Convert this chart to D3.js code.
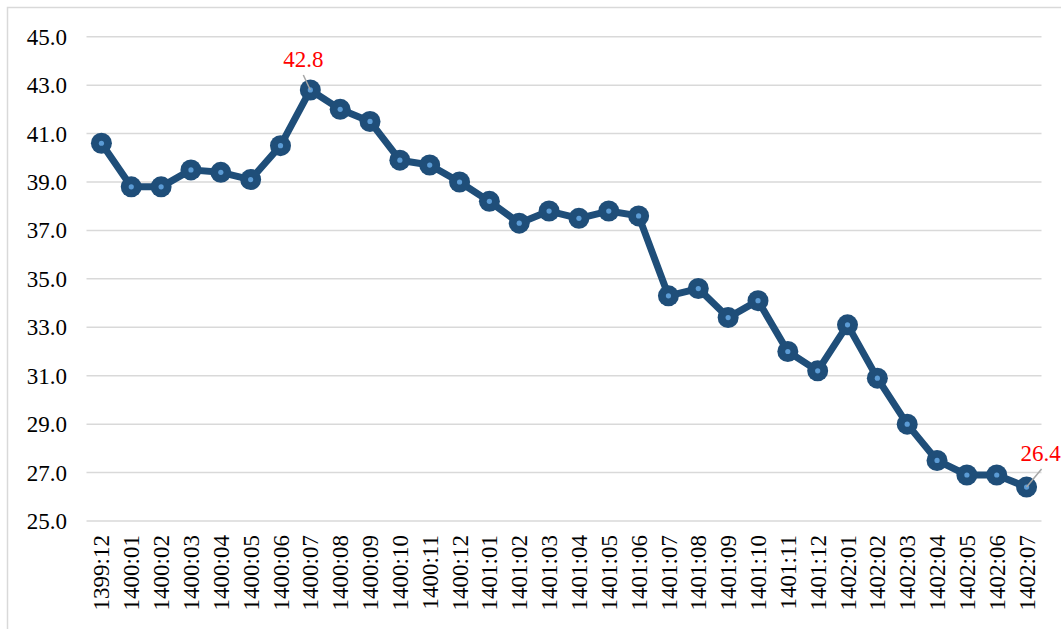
<!DOCTYPE html>
<html>
<head>
<meta charset="utf-8">
<script src="https://cdn.jsdelivr.net/npm/d3@7"></script>
<style>
  body { margin: 0; background: #fff; }
  svg { display: block; }
</style>
</head>
<body>
<div id="chart"></div>
<script>
// months (solar hijri year:month)
const months = ["1399:12",
    "1400:01", "1400:02", "1400:03", "1400:04", "1400:05", "1400:06",
    "1400:07", "1400:08", "1400:09", "1400:10", "1400:11", "1400:12",
    "1401:01", "1401:02", "1401:03", "1401:04", "1401:05", "1401:06",
    "1401:07", "1401:08", "1401:09", "1401:10", "1401:11", "1401:12",
    "1402:01", "1402:02", "1402:03", "1402:04", "1402:05", "1402:06", "1402:07"];

// values
const values = [40.6,
    38.8, 38.8, 39.5, 39.4, 39.1, 40.5,
    42.8, 42.0, 41.5, 39.9, 39.7, 39.0,
    38.2, 37.3, 37.8, 37.5, 37.8, 37.6,
    34.3, 34.6, 33.4, 34.1, 32.0, 31.2,
    33.1, 30.9, 29.0, 27.5, 26.9, 26.9, 26.4];

const yTicks = [25, 27, 29, 31, 33, 35, 37, 39, 41, 43, 45];

// only these points carry a label
const labelled = ["1400:07", "1402:07"];

const width = 1061, height = 629;
const margin = {top: 36.7, right: 19.5, bottom: 108, left: 86.5};

// serif face like the original; DejaVu Serif if Liberation is missing
const font = "'Liberation Serif', 'Times New Roman', 'DejaVu Serif', serif";

const svg = d3.select("#chart")
    .append("svg")
    .attr("width", width)
    .attr("height", height)
    .style("font-family", font)
    .style("font-size", "23px");

// outer chart frame (only top and left are visible in the picture)
svg.append("path")
    .attr("d", "M7.5," + height + "V7.5H" + width)
    .attr("fill", "none")
    .attr("stroke", "#d9d9d9")
    .attr("stroke-width", 1.5);

const x = d3.scaleBand()
    .domain(months)
    .range([margin.left, width - margin.right]);

const y = d3.scaleLinear()
    .domain([25, 45])
    .range([height - margin.bottom, margin.top]);

// gridlines
svg.append("g")
    .selectAll("line")
    .data(yTicks)
    .enter().append("line")
    .attr("x1", margin.left)
    .attr("x2", width - margin.right)
    .attr("y1", d => y(d))
    .attr("y2", d => y(d))
    .attr("stroke", "#d9d9d9")
    .attr("stroke-width", 1.5);

// y labels
svg.append("g")
    .selectAll("text")
    .data(yTicks)
    .enter().append("text")
    .attr("x", 67)
    .attr("y", d => y(d))
    .attr("dy", "0.35em")
    .attr("text-anchor", "end")
    .attr("fill", "#000")
    .text(d => d.toFixed(1));

// x labels, rotated
svg.append("g")
    .selectAll("text")
    .data(months)
    .enter().append("text")
    .attr("transform", d => "translate(" + (x(d) + x.bandwidth() / 2) + "," + 535 + ") rotate(-90)")
    .attr("dy", "0.35em")
    .attr("text-anchor", "end")
    .attr("fill", "#000")
    .text(d => d);

const cx = (d, i) => x(months[i]) + x.bandwidth() / 2;

// the line
const line = d3.line()
    .x((d, i) => cx(d, i))
    .y(d => y(d));

svg.append("path")
    .datum(values)
    .attr("d", line)
    .attr("fill", "none")
    .attr("stroke", "#1f4e79")
    .attr("stroke-width", 7)
    .attr("stroke-linejoin", "round");

// markers: thick dark ring with a small light centre
const markers = svg.append("g")
    .selectAll("g")
    .data(values)
    .enter().append("g")
    .attr("transform", (d, i) => "translate(" + cx(d, i) + "," + y(d) + ")");

markers.append("circle")
    .attr("r", 10.5)
    .attr("fill", "#1f4e79");

markers.append("circle")
    .attr("r", 2.6)
    .attr("fill", "#5b9bd5");

// data labels with leader lines
const labelPos = {
    "1400:07": {dx: -7, dy: -15, tx: -27, ty: -23},
    "1402:07": {dx: 15, dy: -18, tx: -6, ty: -26}
};

labelled.forEach(function(m) {
    const i = months.indexOf(m);
    const px = cx(values[i], i), py = y(values[i]);
    const p = labelPos[m];
    svg.append("line")
        .attr("x1", px)
        .attr("y1", py)
        .attr("x2", px + p.dx)
        .attr("y2", py + p.dy)
        .attr("stroke", "#a6a6a6")
        .attr("stroke-width", 1.5);
    svg.append("text")
        .attr("x", px + p.tx)
        .attr("y", py + p.ty)
        .attr("fill", "#ff0000")
        .text(values[i].toFixed(1));
});
</script>
</body>
</html>
